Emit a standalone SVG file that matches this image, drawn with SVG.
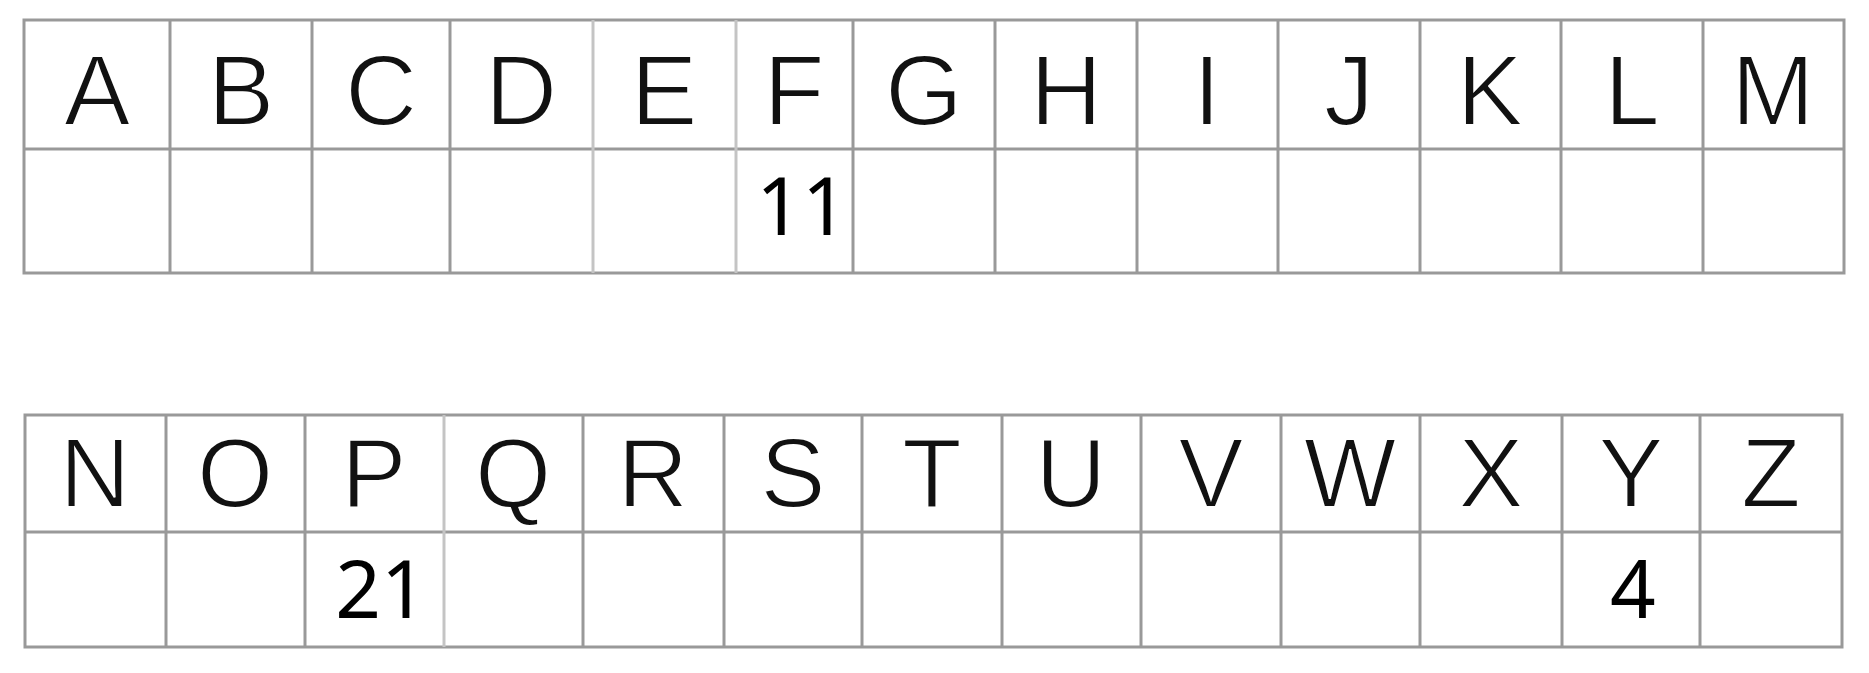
<svg xmlns="http://www.w3.org/2000/svg" width="1869" height="673" viewBox="0 0 1869 673">
<style>
.g{stroke:#999;stroke-width:3;fill:none}
.l{stroke:#c4c4c4;stroke-width:3;fill:none}
.let{font-family:"Liberation Sans",Arial,sans-serif;font-size:100px;fill:#111;text-anchor:middle;stroke:#fff;stroke-width:2}
.let2{font-family:"Liberation Sans",Arial,sans-serif;font-size:98px;fill:#111;text-anchor:middle;stroke:#fff;stroke-width:2}
.num{font-family:"Noto Sans","Open Sans",sans-serif;font-size:80px;fill:#000;text-anchor:middle}
</style>
<rect width="1869" height="673" fill="#fff"/>
<g id="grid">
<rect class="g" x="24" y="20" width="1820" height="253"/>
<line class="g" x1="24" y1="149" x2="1844" y2="149"/>
<line class="g" x1="170" y1="20" x2="170" y2="273"/>
<line class="g" x1="312" y1="20" x2="312" y2="273"/>
<line class="g" x1="450" y1="20" x2="450" y2="273"/>
<line class="l" x1="593" y1="20" x2="593" y2="273"/>
<line class="l" x1="736" y1="20" x2="736" y2="273"/>
<line class="g" x1="853" y1="20" x2="853" y2="273"/>
<line class="g" x1="995" y1="20" x2="995" y2="273"/>
<line class="g" x1="1137" y1="20" x2="1137" y2="273"/>
<line class="g" x1="1278" y1="20" x2="1278" y2="273"/>
<line class="g" x1="1420" y1="20" x2="1420" y2="273"/>
<line class="g" x1="1561" y1="20" x2="1561" y2="273"/>
<line class="g" x1="1703" y1="20" x2="1703" y2="273"/>
<rect class="g" x="25" y="415" width="1817" height="232"/>
<line class="g" x1="25" y1="532" x2="1842" y2="532"/>
<line class="g" x1="166" y1="415" x2="166" y2="647"/>
<line class="g" x1="305" y1="415" x2="305" y2="647"/>
<line class="l" x1="444" y1="415" x2="444" y2="647"/>
<line class="g" x1="583" y1="415" x2="583" y2="647"/>
<line class="g" x1="724" y1="415" x2="724" y2="647"/>
<line class="g" x1="862" y1="415" x2="862" y2="647"/>
<line class="g" x1="1002" y1="415" x2="1002" y2="647"/>
<line class="g" x1="1141" y1="415" x2="1141" y2="647"/>
<line class="g" x1="1281" y1="415" x2="1281" y2="647"/>
<line class="g" x1="1420" y1="415" x2="1420" y2="647"/>
<line class="g" x1="1562" y1="415" x2="1562" y2="647"/>
<line class="g" x1="1700" y1="415" x2="1700" y2="647"/>
</g>
<g id="A"><text class="let" x="97" y="125">A</text></g>
<g id="B"><text class="let" x="241" y="125">B</text></g>
<g id="C"><text class="let" x="381" y="125">C</text></g>
<g id="D"><text class="let" x="521" y="125">D</text></g>
<g id="E"><text class="let" x="664" y="125">E</text></g>
<g id="F"><text class="let" x="794" y="125">F</text><text class="num" x="802" y="235">11</text></g>
<g id="G"><text class="let" x="924" y="125">G</text></g>
<g id="H"><text class="let" x="1066" y="125">H</text></g>
<g id="I"><text class="let" x="1207" y="125">I</text></g>
<g id="J"><text class="let" x="1349" y="125">J</text></g>
<g id="K"><text class="let" x="1490" y="125">K</text></g>
<g id="L"><text class="let" x="1632" y="125">L</text></g>
<g id="M"><text class="let" x="1773" y="125">M</text></g>
<g id="N"><text class="let2" x="95" y="507">N</text></g>
<g id="O"><text class="let2" x="235" y="507">O</text></g>
<g id="P"><text class="let2" x="374" y="507">P</text><text class="num" x="381" y="618">21</text></g>
<g id="Q"><text class="let2" x="513" y="507">Q</text></g>
<g id="R"><text class="let2" x="653" y="507">R</text></g>
<g id="S"><text class="let2" x="793" y="507">S</text></g>
<g id="T"><text class="let2" x="932" y="507">T</text></g>
<g id="U"><text class="let2" x="1071" y="507">U</text></g>
<g id="V"><text class="let2" x="1211" y="507">V</text></g>
<g id="W"><text class="let2" x="1350" y="507">W</text></g>
<g id="X"><text class="let2" x="1491" y="507">X</text></g>
<g id="Y"><text class="let2" x="1631" y="507">Y</text><text class="num" x="1633" y="618">4</text></g>
<g id="Z"><text class="let2" x="1771" y="507">Z</text></g>
<g id="connectors"></g>
</svg>
